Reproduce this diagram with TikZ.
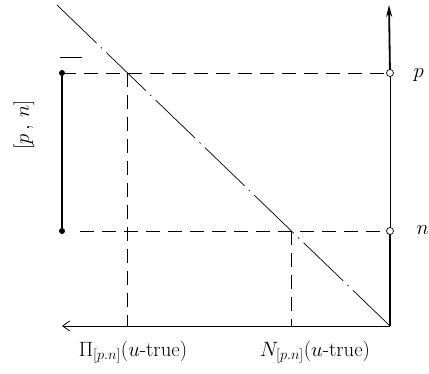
\documentclass[tikz,border=0pt]{standalone}
\usetikzlibrary{arrows.meta}
\tikzset{
    axisline/.style={line width=0.8pt},
    thickaxis/.style={line width=1.8pt},
    guide/.style={dash pattern=on 14pt off 8pt, line width=0.6pt},
    slope/.style={dash pattern=on 55pt off 6pt on 1.5pt off 6pt, line width=0.7pt},
    mark dot/.style={circle, fill, inner sep=0pt, minimum size=6pt},
    mark ring/.style={circle, draw, fill=white, line width=0.7pt, inner sep=0pt, minimum size=7pt},
    lbl/.style={font=\huge}
}
\begin{document}
\begin{tikzpicture}[x=1pt,y=-1pt]
    \useasboundingbox (0,0) rectangle (429,374);

    % Axes: origin at the lower right corner
    \coordinate (O) at (390,326);
    \coordinate (top) at (389,5);
    \coordinate (left) at (62,326);
    \coordinate (P) at (390,73);
    \coordinate (N) at (390,231);

    % Dash-dot line through the two crossing points
    \coordinate (start) at (57,5);
    \draw[slope] (start) -- (O);

    % Crossing points on the p and n levels
    \coordinate (Pc) at (127,73);
    \coordinate (Nc) at (291,231);
    \coordinate (Pb) at (127,326);
    \coordinate (Nb) at (291,326);

    % Dashed guides
    \coordinate (Pl) at (62,73);
    \coordinate (Nl) at (80,231);
    \draw[guide] (Pl) -- (P);
    \draw[guide] (Nl) -- (N);
    \draw[guide] (Pc) -- (Pb);
    \draw[guide] (Nc) -- (Nb);

    % Horizontal and vertical axis
    \draw[axisline, -{Straight Barb[length=7pt,width=10pt]}] (O) -- (left);
    \draw[thickaxis] (O) -- (N);
    \draw[axisline] (N) -- (P);
    \draw[thickaxis, -{Stealth[length=12pt,width=6pt]}] (P) -- (top);

    % Interval [p,n] on the left
    \node[mark dot] (Ip) at (62,73) {};
    \node[mark dot] (In) at (62,231) {};
    \draw[line width=1.8pt] (Ip) -- (In);
    \coordinate (tk1) at (60,57);
    \coordinate (tk2) at (82,57);
    \draw[line width=0.6pt] (tk1) -- (tk2);
    \node[lbl, rotate=90] (Ilbl) at (24,125) {$[p\,,\,n]$};

    % Rings on the vertical axis
    \node[mark ring] (Pr) at (P) {};
    \node[mark ring] (Nr) at (N) {};
    \node[lbl, anchor=west] (plbl) at (410,75) {$p$};
    \node[lbl, anchor=west] (nlbl) at (413,230) {$n$};

    % Labels under the horizontal axis
    \node[lbl] (Pilbl) at (133,352) {$\Pi_{[p.n]}(u\mbox{-}\mathrm{true})$};
    \node[lbl] (Nlbl) at (315,352) {$N_{[p.n]}(u\mbox{-}\mathrm{true})$};
\end{tikzpicture}
\end{document}
